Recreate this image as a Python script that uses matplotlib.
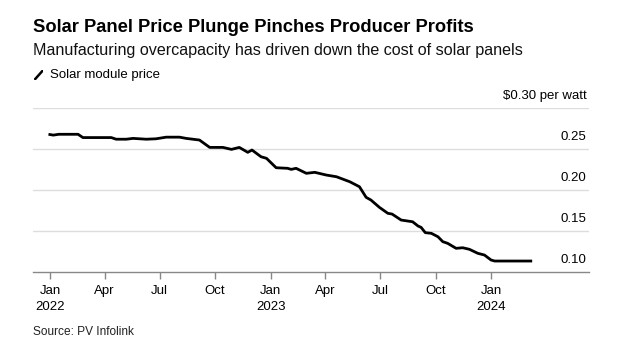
import numpy as np
import pandas as pd
import matplotlib
matplotlib.use("Agg")
import matplotlib.pyplot as plt
import matplotlib.transforms as mtransforms
from matplotlib.lines import Line2D

plt.rcParams['font.family'] = ['Liberation Sans', 'DejaVu Sans']

# solar module price, USD per watt
dates = ["2021-12-29", "2022-01-06", "2022-01-15", "2022-02-16", "2022-02-24",
         "2022-04-12", "2022-04-20", "2022-05-07", "2022-05-18", "2022-06-09",
         "2022-06-25", "2022-07-12", "2022-08-03", "2022-08-14", "2022-09-05",
         "2022-09-22", "2022-10-14", "2022-10-28", "2022-11-10", "2022-11-24",
         "2022-12-01", "2022-12-16", "2022-12-25", "2023-01-10", "2023-01-29",
         "2023-02-04", "2023-02-12", "2023-03-01", "2023-03-15", "2023-04-03",
         "2023-04-20", "2023-05-12", "2023-05-28", "2023-06-08", "2023-06-16",
         "2023-06-30", "2023-07-14", "2023-07-21", "2023-08-05", "2023-08-24",
         "2023-09-02", "2023-09-07", "2023-09-14", "2023-09-24", "2023-10-05",
         "2023-10-13", "2023-10-21", "2023-11-04", "2023-11-15", "2023-11-26",
         "2023-12-10", "2023-12-21", "2024-01-01", "2024-01-07", "2024-03-09"]
price = [0.268, 0.267, 0.268, 0.268, 0.264,
         0.264, 0.262, 0.262, 0.263, 0.262,
         0.2625, 0.2645, 0.2645, 0.263, 0.261,
         0.252, 0.252, 0.2496, 0.252, 0.246,
         0.2488, 0.2406, 0.2387, 0.2272, 0.2265,
         0.2252, 0.2265, 0.2204, 0.2216, 0.2183,
         0.2162, 0.2101, 0.204, 0.1911, 0.1878,
         0.1789, 0.1716, 0.1707, 0.1634, 0.1613,
         0.1561, 0.1545, 0.148, 0.1472, 0.143,
         0.137, 0.135, 0.1289, 0.1296, 0.1277,
         0.1228, 0.1207, 0.1146, 0.1134, 0.1134]

xtick_dates = ["2022-01-01", "2022-04-01", "2022-07-01", "2022-10-01",
               "2023-01-01", "2023-04-01", "2023-07-01", "2023-10-01",
               "2024-01-01"]
xtick_labels = ["Jan\n2022", "Apr", "Jul", "Oct", "Jan\n2023", "Apr", "Jul",
                "Oct", "Jan\n2024"]
ytick_values = [0.10, 0.15, 0.20, 0.25, 0.30]
ytick_labels = ["0.10", "0.15", "0.20", "0.25", "$0.30 per watt"]

dates = pd.to_datetime(dates)
xtick_dates = pd.to_datetime(xtick_dates)

fig = plt.figure(figsize=(6.36, 3.59), dpi=100)
ax = fig.add_axes([0.0525, 0.2423, 0.8735, 0.4567])

ax.plot(dates, price, color="black", lw=2.0, solid_capstyle="butt",
        solid_joinstyle="round", zorder=3)

ax.set_xlim(pd.Timestamp("2021-12-04"), pd.Timestamp("2024-06-11"))
ax.set_ylim(0.10, 0.30)

# gridlines
ax.set_yticks(ytick_values)
ax.yaxis.set_tick_params(length=0, labelleft=False)
for v in ytick_values[1:]:
    ax.axhline(v, color="#dddddd", lw=1.0, zorder=1)

# y labels sit above their gridlines on the right
trans = mtransforms.offset_copy(ax.get_yaxis_transform(), fig=fig, x=-2, y=12, units="dots")
for v, lab in zip(ytick_values, ytick_labels):
    ax.text(0.9995, v, lab, transform=trans, ha="right", va="center",
            fontsize=9.5, color="#000000")

for s in ["top", "right", "left"]:
    ax.spines[s].set_visible(False)
ax.spines["bottom"].set_color("#888888")
ax.spines["bottom"].set_linewidth(1.0)

ax.set_xticks(xtick_dates)
ax.set_xticklabels(xtick_labels, fontsize=9.5, linespacing=1.5)
ax.tick_params(axis="x", length=5, width=1.0, color="#888888", pad=4)

# header
fig.text(0.0525, 1 - 27 / 359, "Solar Panel Price Plunge Pinches Producer Profits",
         fontsize=13.2, fontweight="bold", va="center", ha="left")
fig.text(0.0525, 1 - 51 / 359,
         "Manufacturing overcapacity has driven down the cost of solar panels",
         fontsize=11.6, va="center", ha="left", color="#111111")
leg_ax = fig.add_axes([0.054, 1 - 80 / 359, 0.014, 10 / 359])
leg_ax.add_line(Line2D([0.1, 0.9], [0.1, 0.9], color="black", lw=1.8))
leg_ax.set_xlim(0, 1)
leg_ax.set_ylim(0, 1)
leg_ax.axis("off")
fig.text(50 / 636, 1 - 75 / 359, "Solar module price", fontsize=9.5,
         va="center", ha="left")

fig.text(0.0525, 1 - 332 / 359, "Source: PV Infolink", fontsize=8.6,
         va="center", ha="left", color="#222222")

fig.savefig("out.png", dpi=100, facecolor="white")
